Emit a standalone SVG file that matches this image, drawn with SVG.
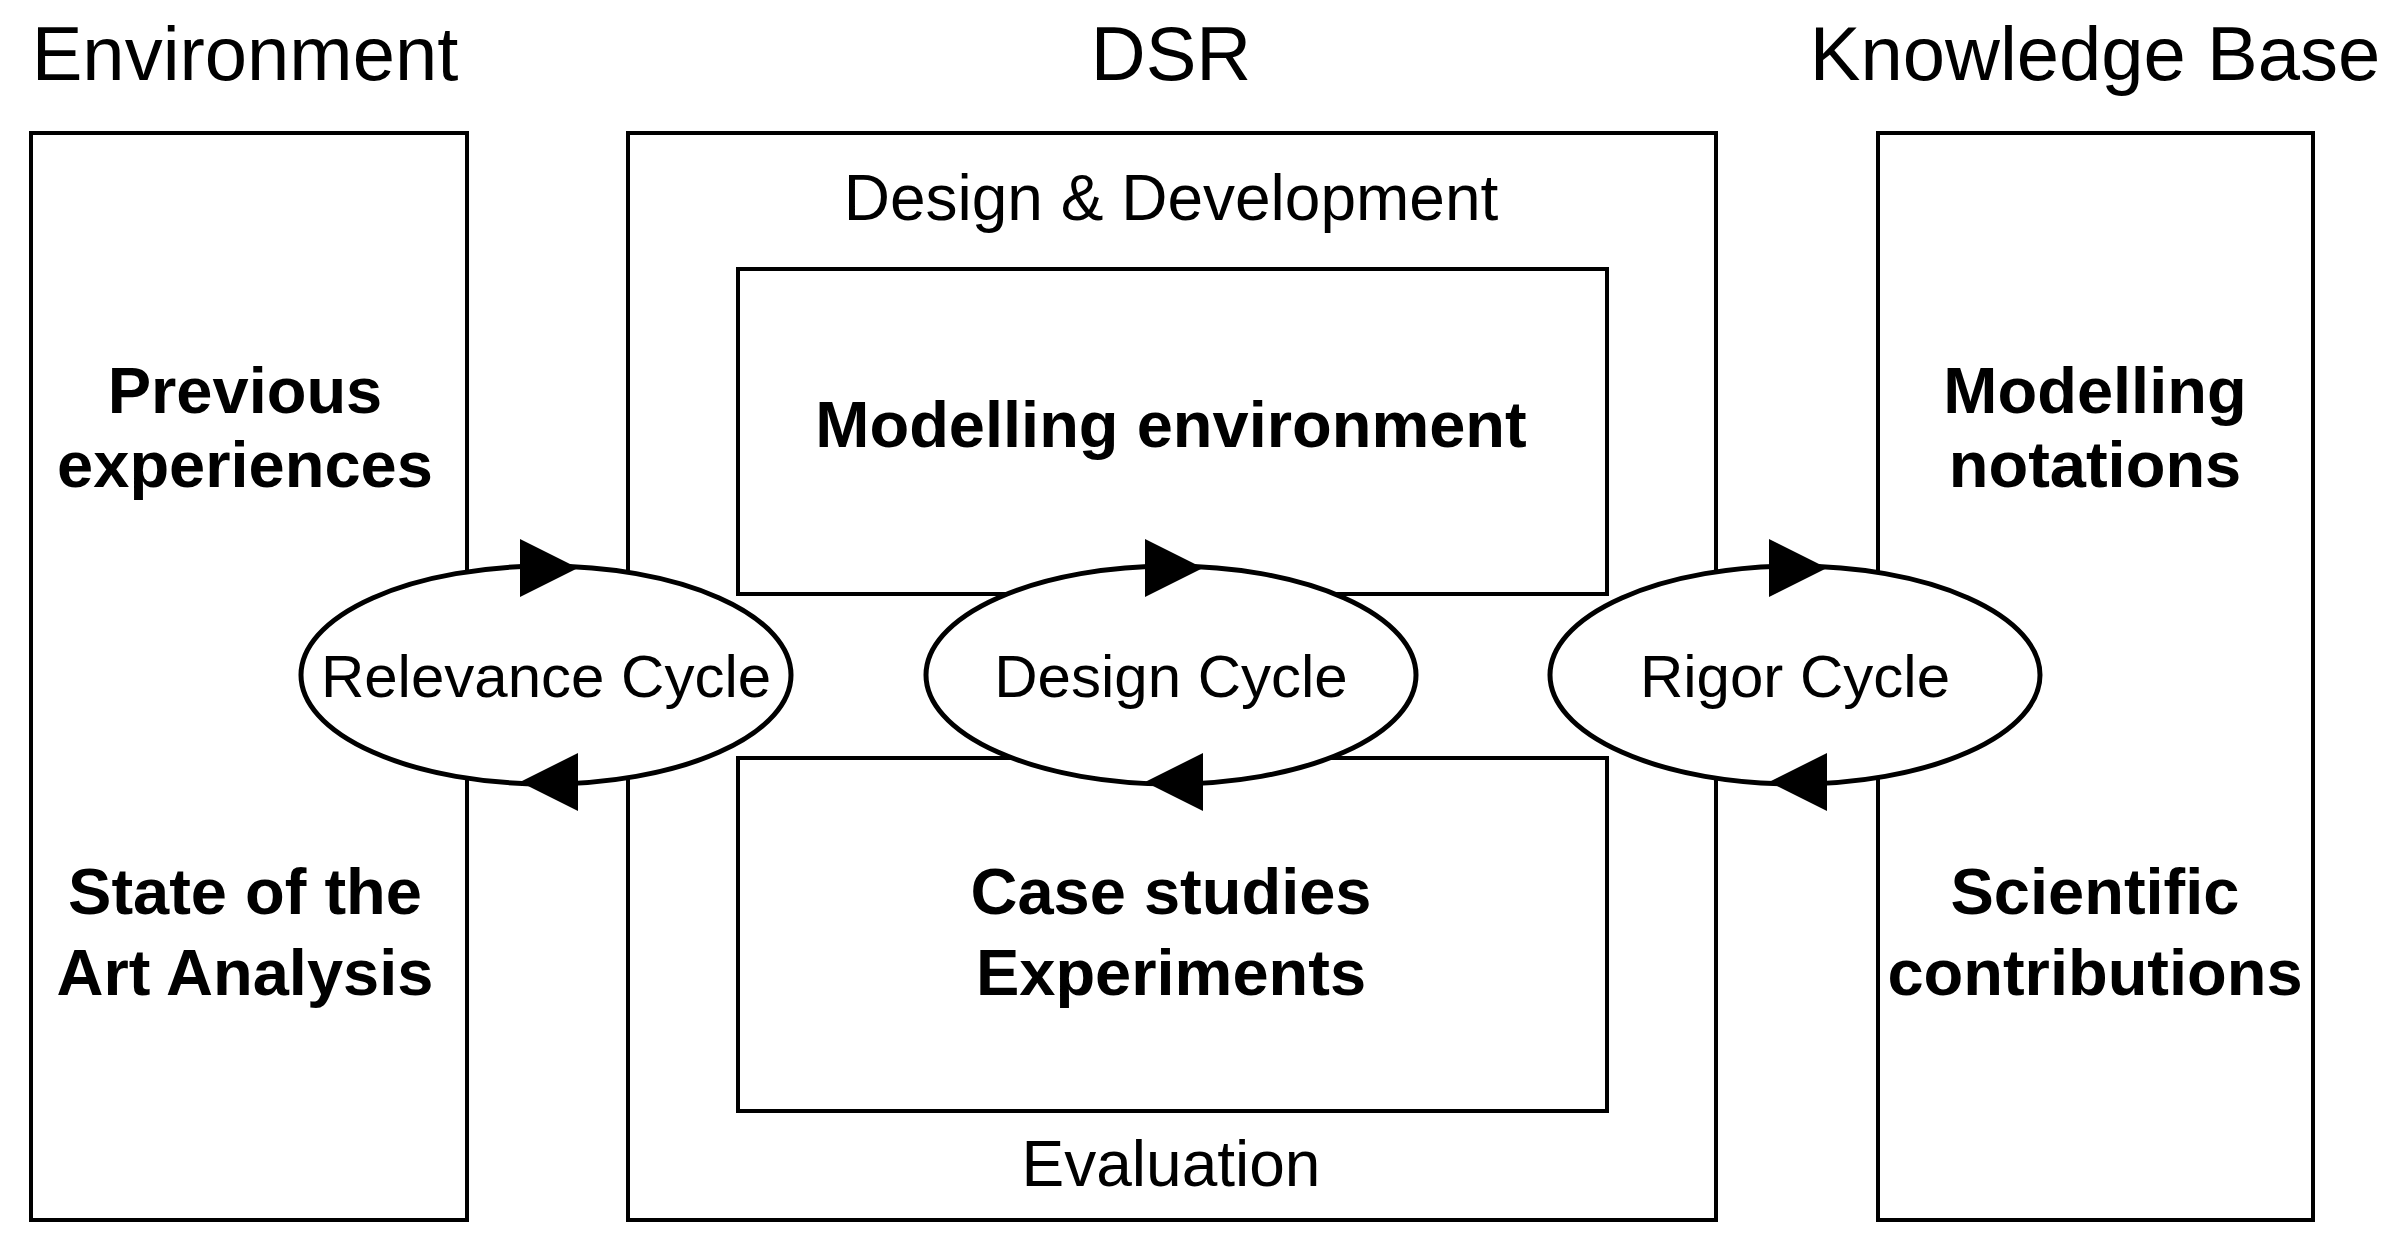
<svg xmlns="http://www.w3.org/2000/svg" width="2400" height="1252" viewBox="0 0 2400 1252">
<style>
.box,ellipse{fill:none;stroke:#000;stroke-width:4}
ellipse{fill:#fff;stroke-width:5}
text{font-family:"Liberation Sans",Arial,sans-serif;text-anchor:middle;fill:#000}
.t{font-size:76px}
.b{font-size:65px;font-weight:bold}
.r{font-size:60px}
.s{font-size:64px}
</style>
<rect width="2400" height="1252" fill="#fff"/>
<text class="t" x="245" y="80">Environment</text>
<text class="t" x="1171" y="80">DSR</text>
<text class="t" x="2095" y="80">Knowledge Base</text>
<g id="environment"><rect class="box" x="31" y="133" width="436" height="1087"/>
<text class="b" x="245" y="413">Previous</text><text class="b" x="245" y="487">experiences</text>
<text class="b" x="245" y="914">State of the</text><text class="b" x="245" y="995">Art Analysis</text></g>
<g id="dsr"><rect class="box" x="628" y="133" width="1088" height="1087"/>
<text class="s" x="1171" y="220">Design &amp; Development</text>
<text class="s" x="1171" y="1186">Evaluation</text></g>
<g id="modelling"><rect class="box" x="738" y="269" width="869" height="325"/>
<text class="b" x="1171" y="447">Modelling environment</text></g>
<g id="cases"><rect class="box" x="738" y="758" width="869" height="353"/>
<text class="b" x="1171" y="914">Case studies</text><text class="b" x="1171" y="995">Experiments</text></g>
<g id="kb"><rect class="box" x="1878" y="133" width="435" height="1087"/>
<text class="b" x="2095" y="413">Modelling</text><text class="b" x="2095" y="487">notations</text>
<text class="b" x="2095" y="914">Scientific</text><text class="b" x="2095" y="995">contributions</text></g>
<g id="connectors">
<g id="relevance"><ellipse cx="546" cy="675" rx="245" ry="109"/><text class="r" x="546" y="697">Relevance Cycle</text>
<polygon points="520,539 578,568 520,597"/><polygon points="578,753 520,782 578,811"/></g>
<g id="design"><ellipse cx="1171" cy="675" rx="245" ry="109"/><text class="r" x="1171" y="697">Design Cycle</text>
<polygon points="1145,539 1203,568 1145,597"/><polygon points="1203,753 1145,782 1203,811"/></g>
<g id="rigor"><ellipse cx="1795" cy="675" rx="245" ry="109"/><text class="r" x="1795" y="697">Rigor Cycle</text>
<polygon points="1769,539 1827,568 1769,597"/><polygon points="1827,753 1769,782 1827,811"/></g>
</g>
</svg>
